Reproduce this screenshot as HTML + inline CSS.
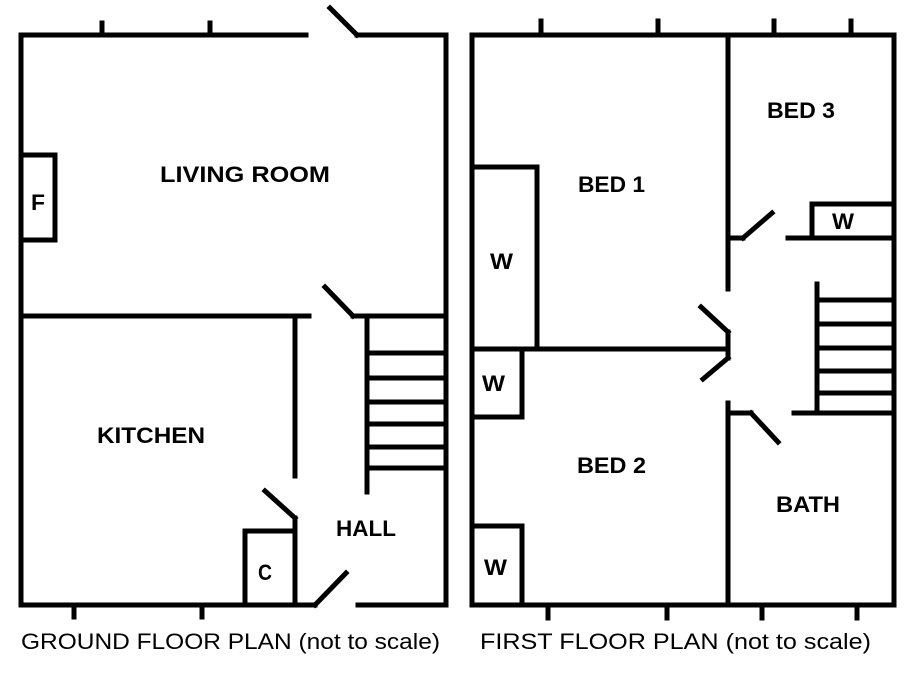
<!DOCTYPE html>
<html><head><meta charset="utf-8"><style>
html,body{margin:0;padding:0;background:#fff;}
svg{display:block;}
text{font-family:"Liberation Sans","DejaVu Sans",sans-serif;font-size:22px;font-weight:bold;fill:#000;}
</style></head><body>
<svg width="918" height="681" viewBox="0 0 918 681" xmlns="http://www.w3.org/2000/svg">
<g stroke="#000" stroke-width="5" fill="none" stroke-linecap="square">
<!-- Ground floor -->
<polyline points="306,35 21,35 21,605 315,605"/>
<polyline points="357,35 446,35 446,605 358,605"/>
<line x1="330" y1="8" x2="357" y2="35"/>
<line x1="102" y1="23" x2="102" y2="35"/>
<line x1="210" y1="23" x2="210" y2="35"/>
<polyline points="21,155 55,155 55,240 21,240"/>
<line x1="21" y1="316" x2="309" y2="316"/>
<line x1="325" y1="287" x2="353" y2="316"/>
<line x1="353" y1="316" x2="446" y2="316"/>
<line x1="295" y1="316" x2="295" y2="476"/>
<line x1="367" y1="316" x2="367" y2="492"/>
<line x1="367" y1="353" x2="446" y2="353"/>
<line x1="367" y1="378" x2="446" y2="378"/>
<line x1="367" y1="402" x2="446" y2="402"/>
<line x1="367" y1="424" x2="446" y2="424"/>
<line x1="367" y1="447" x2="446" y2="447"/>
<line x1="367" y1="468" x2="446" y2="468"/>
<line x1="265" y1="491" x2="295" y2="518"/>
<line x1="295" y1="518" x2="295" y2="605"/>
<polyline points="245,605 245,531 295,531"/>
<line x1="315" y1="605" x2="346" y2="573"/>
<line x1="74" y1="605" x2="74" y2="617"/>
<line x1="202" y1="605" x2="202" y2="617"/>
<!-- First floor -->
<rect x="472" y="35" width="422" height="570"/>
<line x1="541" y1="21" x2="541" y2="35"/>
<line x1="658" y1="21" x2="658" y2="35"/>
<line x1="774" y1="21" x2="774" y2="35"/>
<line x1="851" y1="21" x2="851" y2="35"/>
<line x1="548" y1="605" x2="548" y2="618"/>
<line x1="667" y1="605" x2="667" y2="618"/>
<line x1="762" y1="605" x2="762" y2="618"/>
<line x1="857" y1="605" x2="857" y2="618"/>
<line x1="728" y1="35" x2="728" y2="289"/>
<line x1="728" y1="238" x2="743" y2="238"/>
<line x1="743" y1="238" x2="772" y2="213"/>
<line x1="788" y1="238" x2="894" y2="238"/>
<polyline points="812,238 812,204 894,204"/>
<polyline points="472,167 537,167 537,349"/>
<line x1="472" y1="349" x2="728" y2="349"/>
<line x1="701" y1="307" x2="728" y2="332"/>
<line x1="728" y1="332" x2="728" y2="358"/>
<line x1="728" y1="358" x2="703" y2="379"/>
<polyline points="522,349 522,417 472,417"/>
<polyline points="472,526 522,526 522,605"/>
<line x1="728" y1="403" x2="728" y2="605"/>
<line x1="728" y1="413" x2="751" y2="413"/>
<line x1="751" y1="413" x2="778" y2="442"/>
<line x1="794" y1="413" x2="894" y2="413"/>
<line x1="817" y1="284" x2="817" y2="413"/>
<line x1="817" y1="300" x2="894" y2="300"/>
<line x1="817" y1="324" x2="894" y2="324"/>
<line x1="817" y1="348" x2="894" y2="348"/>
<line x1="817" y1="371" x2="894" y2="371"/>
<line x1="817" y1="393" x2="894" y2="393"/>
</g>
<g>
<text x="160" y="182" textLength="170" lengthAdjust="spacingAndGlyphs">LIVING ROOM</text>
<text x="31" y="210" textLength="14" lengthAdjust="spacingAndGlyphs">F</text>
<text x="97" y="443" textLength="108" lengthAdjust="spacingAndGlyphs">KITCHEN</text>
<text x="336" y="536" textLength="60" lengthAdjust="spacingAndGlyphs">HALL</text>
<text x="258" y="580" textLength="14" lengthAdjust="spacingAndGlyphs">C</text>
<text x="21" y="649" font-size="20" style="font-weight:normal" textLength="419" lengthAdjust="spacingAndGlyphs">GROUND FLOOR PLAN (not to scale)</text>
<text x="767" y="118" textLength="68" lengthAdjust="spacingAndGlyphs">BED 3</text>
<text x="578" y="192" textLength="67" lengthAdjust="spacingAndGlyphs">BED 1</text>
<text x="832" y="229" textLength="22" lengthAdjust="spacingAndGlyphs">W</text>
<text x="490" y="269" textLength="23" lengthAdjust="spacingAndGlyphs">W</text>
<text x="482" y="391" textLength="23" lengthAdjust="spacingAndGlyphs">W</text>
<text x="577" y="473" textLength="69" lengthAdjust="spacingAndGlyphs">BED 2</text>
<text x="776" y="512" textLength="64" lengthAdjust="spacingAndGlyphs">BATH</text>
<text x="484" y="575" textLength="23" lengthAdjust="spacingAndGlyphs">W</text>
<text x="480" y="649" font-size="20" style="font-weight:normal" textLength="391" lengthAdjust="spacingAndGlyphs">FIRST FLOOR PLAN (not to scale)</text>
</g>
</svg>
</body></html>
